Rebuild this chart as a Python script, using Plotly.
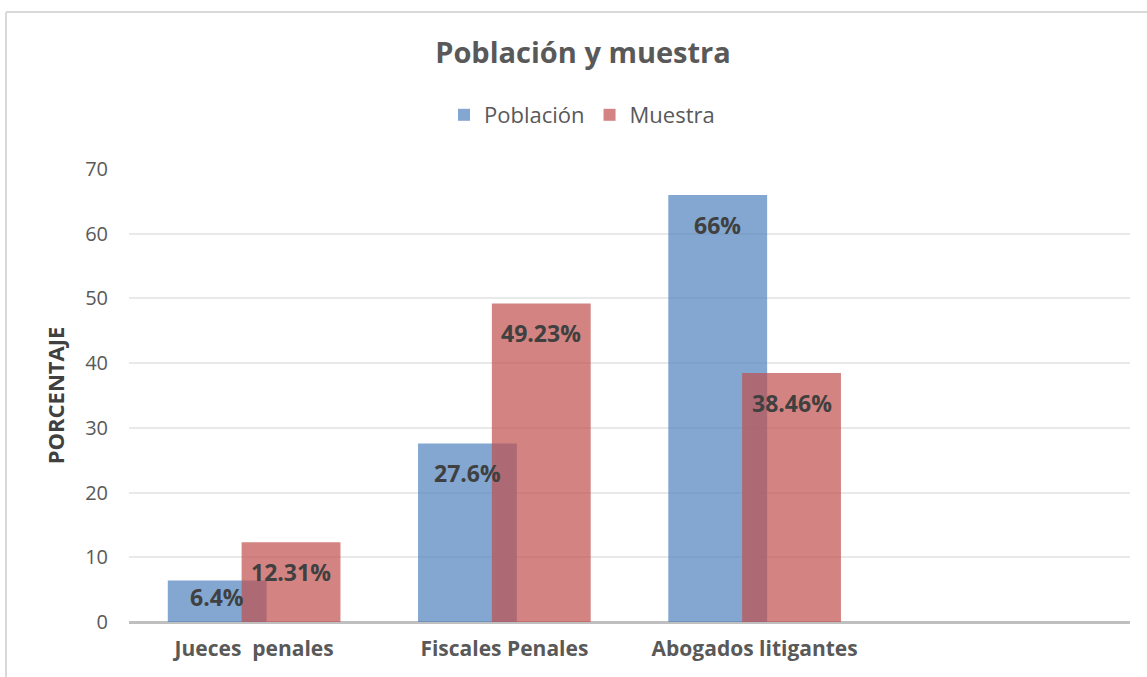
import plotly.graph_objects as go

# Datos del gráfico
categorias = ["Jueces\u00a0\u00a0penales", "Fiscales Penales", "Abogados litigantes"]
poblacion = [6.4, 27.6, 66]
muestra = [12.31, 49.23, 38.46]
etiquetas_poblacion = ["6.4%", "27.6%", "66%"]
etiquetas_muestra = ["12.31%", "49.23%", "38.46%"]

W, H = 1147, 677
ML, MR, MT, MB = 129, 17, 169, 55
FONT = "'Open Sans', Lato, sans-serif"
GRIS = "#595959"
OSCURO = "#404040"

fig = go.Figure()

fig.add_trace(go.Bar(
    x=categorias, y=poblacion, name="Población",
    marker=dict(color="rgba(79,129,189,0.7)", line=dict(width=0)),
    width=0.395, offset=-0.345,
))
fig.add_trace(go.Bar(
    x=categorias, y=muestra, name="Muestra",
    marker=dict(color="rgba(192,80,77,0.7)", line=dict(width=0)),
    width=0.395, offset=-0.05,
))

# etiquetas de datos dentro de las barras (cerca del extremo)
pw = (W - ML - MR) / 4.0
for serie, etiquetas, centro in [(poblacion, etiquetas_poblacion, -0.1475),
                                 (muestra, etiquetas_muestra, 0.1475)]:
    for cat, v, t in zip(categorias, serie, etiquetas):
        fig.add_annotation(
            x=cat, y=v, text=f"<b>{t}</b>", showarrow=False,
            xshift=centro * pw, yshift=-30 if v > 10 else -16,
            yanchor="middle",
            font=dict(family=FONT, size=23, color=OSCURO),
        )

# borde del gráfico (solo lados superior e izquierdo visibles)
ancho = W - ML - MR
alto = H - MT - MB
bx = (6 - ML) / ancho
by_top = (H - 12 - MB) / alto
by_bot = -(MB + 5) / alto
bx_der = (W + 5 - ML) / ancho
fig.add_shape(type="line", xref="paper", yref="paper",
              x0=bx, x1=bx, y0=by_bot, y1=by_top,
              line=dict(color="#D9D9D9", width=2))
fig.add_shape(type="line", xref="paper", yref="paper",
              x0=bx, x1=bx_der, y0=by_top, y1=by_top,
              line=dict(color="#D9D9D9", width=2))

fig.update_layout(
    width=W, height=H,
    margin=dict(l=ML, r=MR, t=MT, b=MB),
    paper_bgcolor="white", plot_bgcolor="white",
    barmode="overlay",
    font=dict(family=FONT, color=GRIS),
    title=dict(text="<b>Población y muestra</b>", xref="container", yref="container",
               x=583 / W, xanchor="center", y=1 - 53 / H, yanchor="middle",
               font=dict(family=FONT, size=29, color=GRIS)),
    legend=dict(orientation="h", xref="container", yref="container",
                x=582 / W, xanchor="center", y=1 - 115 / H, yanchor="middle",
                font=dict(family=FONT, size=22, color=GRIS),
                itemwidth=30, traceorder="normal"),
    showlegend=True,
)

fig.update_xaxes(
    type="category", range=[-0.5, 3.5],
    showgrid=False, showline=False, ticks="",
    tickfont=dict(family=FONT, size=21, color=GRIS, weight="bold"),
    ticklabelstandoff=12,
)
fig.update_yaxes(
    range=[0, 70], dtick=10,
    showgrid=True, gridcolor="#E9E9E9", gridwidth=1.5,
    zeroline=True, zerolinecolor="#BFBFBF", zerolinewidth=2.5,
    showline=False, ticks="",
    tickfont=dict(family=FONT, size=20, color=GRIS),
    ticklabelstandoff=20,
    title=dict(text="<b>PORCENTAJE</b>", standoff=14,
               font=dict(family=FONT, size=22, color=OSCURO)),
)

fig.write_html("out.html", config={"displayModeBar": False},
               post_script="document.body.style.margin = '0px';")
